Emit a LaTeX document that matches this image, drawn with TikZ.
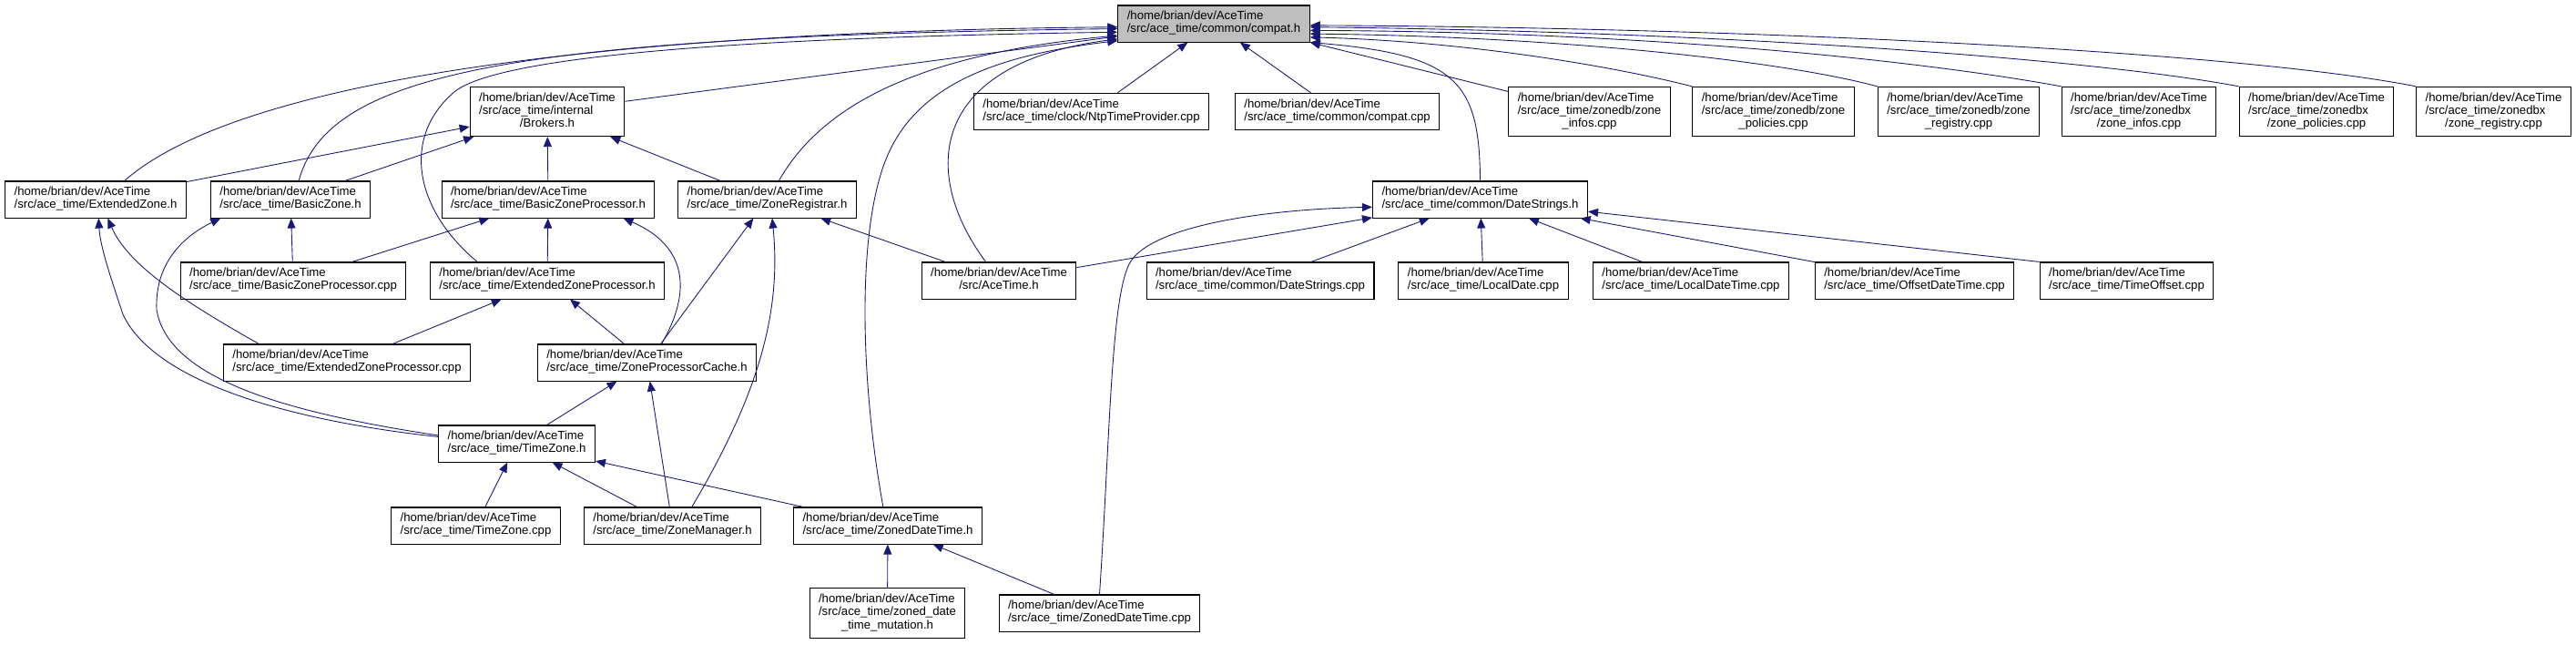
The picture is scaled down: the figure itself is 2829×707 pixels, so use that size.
\documentclass[tikz,border=0pt]{standalone}
\usepackage{fontspec}
\setmainfont{Liberation Sans}
\usetikzlibrary{arrows.meta}
\definecolor{edgeC}{RGB}{25,25,112}
\definecolor{rootC}{RGB}{191,191,191}
\newcommand{\homedir}{/home/brian/dev/AceTime}
\newcommand{\flab}[2]{\begin{tabular}{@{}l@{}}#1\\\multicolumn{1}{@{}c@{}}{#2}\end{tabular}}
\newcommand{\flabb}[3]{\begin{tabular}{@{}l@{}}#1\\#2\\\multicolumn{1}{@{}c@{}}{#3}\end{tabular}}
\tikzset{
  filebox/.style={rectangle, draw=black, fill=white, line width=0.6pt,
                  font=\fontsize{7.5}{8.1}\selectfont, inner xsep=0.2cm, inner ysep=3.3pt},
  rootbox/.style={filebox, fill=rootC},
  arr/.style={-{Triangle[length=2.2mm,width=1.8mm]}, line width=0.5pt, draw=edgeC},
}

\begin{document}
\begin{tikzpicture}[x=0.02cm, y=-0.02cm]
    \useasboundingbox (0,0) rectangle (2829,707);
    % top
    \node[rootbox] (compat) at (1333,26) {\flab{\homedir}{/src/ace\_time/common/compat.h}};
    % row 1
    \node[filebox] (brokers) at (601,122.5) {\flabb{\homedir}{/src/ace\_time/internal}{/Brokers.h}};
    \node[filebox] (ntp) at (1198.5,122.5) {\flab{\homedir}{/src/ace\_time/clock/NtpTimeProvider.cpp}};
    \node[filebox] (compatcpp) at (1468.5,122.5) {\flab{\homedir}{/src/ace\_time/common/compat.cpp}};
    \node[filebox] (zdbinfos) at (1745.5,122.5) {\flabb{\homedir}{/src/ace\_time/zonedb/zone}{\_infos.cpp}};
    \node[filebox] (zdbpolicies) at (1947.5,122.5) {\flabb{\homedir}{/src/ace\_time/zonedb/zone}{\_policies.cpp}};
    \node[filebox] (zdbregistry) at (2151,122.5) {\flabb{\homedir}{/src/ace\_time/zonedb/zone}{\_registry.cpp}};
    \node[filebox] (zdbxinfos) at (2349,122.5) {\flabb{\homedir}{/src/ace\_time/zonedbx}{/zone\_infos.cpp}};
    \node[filebox] (zdbxpolicies) at (2544,122.5) {\flabb{\homedir}{/src/ace\_time/zonedbx}{/zone\_policies.cpp}};
    \node[filebox] (zdbxregistry) at (2738.5,122.5) {\flabb{\homedir}{/src/ace\_time/zonedbx}{/zone\_registry.cpp}};
    % row 2
    \node[filebox] (extzone) at (105,219) {\flab{\homedir}{/src/ace\_time/ExtendedZone.h}};
    \node[filebox] (basiczone) at (319,219) {\flab{\homedir}{/src/ace\_time/BasicZone.h}};
    \node[filebox] (bzproc) at (602,219) {\flab{\homedir}{/src/ace\_time/BasicZoneProcessor.h}};
    \node[filebox] (registrar) at (842.5,219) {\flab{\homedir}{/src/ace\_time/ZoneRegistrar.h}};
    \node[filebox] (datestrings) at (1625.5,219) {\flab{\homedir}{/src/ace\_time/common/DateStrings.h}};
    % row 3
    \node[filebox] (bzproccpp) at (322,308) {\flab{\homedir}{/src/ace\_time/BasicZoneProcessor.cpp}};
    \node[filebox] (ezproch) at (601,308) {\flab{\homedir}{/src/ace\_time/ExtendedZoneProcessor.h}};
    \node[filebox] (acetimeh) at (1097,308) {\flab{\homedir}{/src/AceTime.h}};
    \node[filebox] (dscpp) at (1384,308) {\flab{\homedir}{/src/ace\_time/common/DateStrings.cpp}};
    \node[filebox] (localdate) at (1629,308) {\flab{\homedir}{/src/ace\_time/LocalDate.cpp}};
    \node[filebox] (localdatetime) at (1857,308) {\flab{\homedir}{/src/ace\_time/LocalDateTime.cpp}};
    \node[filebox] (offsetdatetime) at (2102.5,308) {\flab{\homedir}{/src/ace\_time/OffsetDateTime.cpp}};
    \node[filebox] (timeoffset) at (2335.5,308) {\flab{\homedir}{/src/ace\_time/TimeOffset.cpp}};
    % rows 4 to 7
    \node[filebox] (ezproccpp) at (381,398) {\flab{\homedir}{/src/ace\_time/ExtendedZoneProcessor.cpp}};
    \node[filebox] (zpcache) at (710.5,398) {\flab{\homedir}{/src/ace\_time/ZoneProcessorCache.h}};
    \node[filebox] (timezoneh) at (567.5,487) {\flab{\homedir}{/src/ace\_time/TimeZone.h}};
    \node[filebox] (timezonecpp) at (522.5,577) {\flab{\homedir}{/src/ace\_time/TimeZone.cpp}};
    \node[filebox] (zonemanager) at (738.5,577) {\flab{\homedir}{/src/ace\_time/ZoneManager.h}};
    \node[filebox] (zdth) at (975,577) {\flab{\homedir}{/src/ace\_time/ZonedDateTime.h}};
    \node[filebox] (mutation) at (974.5,673) {\flabb{\homedir}{/src/ace\_time/zoned\_date}{\_time\_mutation.h}};
    \node[filebox] (zdtcpp) at (1207.5,673) {\flab{\homedir}{/src/ace\_time/ZonedDateTime.cpp}};

    % edges into compat.h
    \draw[arr] (extzone.33) .. controls (260,90) and (650,35) .. (compat.182);
    \draw[arr] (basiczone.66) .. controls (360,80) and (560,40) .. (compat.183);
    \draw[arr] (brokers) -- (compat);
    \draw[arr] (ezproch.165) .. controls (455,230) and (440,150) .. (500,100) .. controls (560,55) and (900,40) .. (compat.185);
    \draw[arr] (registrar.58) .. controls (900,120) and (1000,60) .. (compat.187);
    \draw[arr] (acetimeh.125) .. controls (1010,190) and (1020,70) .. (compat.189);
    \draw[arr] (zdth.104) .. controls (945,420) and (940,250) .. (975,170) .. controls (1010,90) and (1100,60) .. (compat.190);
    \draw[arr] (ntp) -- (compat); \draw[arr] (compatcpp) -- (compat);
    \draw[arr] (datestrings.north) .. controls (1625,90) and (1600,60) .. (compat.-11);
    \draw[arr] (zdbinfos) -- (compat.south east);
    \draw[arr] (zdbpolicies.north west) .. controls (1760,70) and (1600,45) .. (compat.-8);
    \draw[arr] (zdbregistry.north west) .. controls (1950,65) and (1700,40) .. (compat.-6);
    \draw[arr] (zdbxinfos.north west) .. controls (2100,65) and (1800,35) .. (compat.-4);
    \draw[arr] (zdbxpolicies.north west) .. controls (2300,65) and (1900,35) .. (compat.-2);
    \draw[arr] (zdbxregistry.north west) .. controls (2450,55) and (1900,30) .. (compat.-1);
    % edges into Brokers.h
    \draw[arr] (extzone) -- (brokers); \draw[arr] (basiczone) -- (brokers);
    \draw[arr] (bzproc) -- (brokers); \draw[arr] (registrar) -- (brokers);
    % zone headers
    \draw[arr] (bzproccpp) -- (basiczone); \draw[arr] (bzproccpp) -- (bzproc);
    \draw[arr] (ezproch) -- (bzproc);
    \draw[arr] (zpcache.52) .. controls (760,320) and (755,270) .. (bzproc.-14);
    \draw[arr] (timezoneh.174) .. controls (330,455) and (185,420) .. (172,340) .. controls (170,290) and (200,260) .. (basiczone.195);
    \draw[arr] (timezoneh.175) .. controls (320,462) and (170,420) .. (135,345) .. controls (120,300) and (110,270) .. (extzone.-81);
    \draw[arr] (ezproccpp.168) .. controls (200,330) and (140,290) .. (extzone.-57);
    \draw[arr] (ezproccpp) -- (ezproch); \draw[arr] (zpcache) -- (ezproch);
    \draw[arr] (acetimeh) -- (registrar); \draw[arr] (zpcache) -- (registrar);
    \draw[arr] (zonemanager.44) .. controls (835,430) and (858,340) .. (registrar.-75);
    \draw[arr] (timezoneh) -- (zpcache); \draw[arr] (zonemanager) -- (zpcache);
    \draw[arr] (timezonecpp) -- (timezoneh); \draw[arr] (zonemanager) -- (timezoneh);
    \draw[arr] (zdth) -- (timezoneh);
    \draw[arr] (mutation) -- (zdth); \draw[arr] (zdtcpp) -- (zdth);
    % edges into DateStrings.h
    \draw[arr] (acetimeh) -- (datestrings);
    \draw[arr] (zdtcpp.north) .. controls (1219,480) and (1220,330) .. (1240,290) .. controls (1260,250) and (1380,230) .. (datestrings.184);
    \draw[arr] (dscpp) -- (datestrings); \draw[arr] (localdate) -- (datestrings);
    \draw[arr] (localdatetime) -- (datestrings); \draw[arr] (offsetdatetime) -- (datestrings);
    \draw[arr] (timeoffset.north west) -- (datestrings);
\end{tikzpicture}
\end{document}
